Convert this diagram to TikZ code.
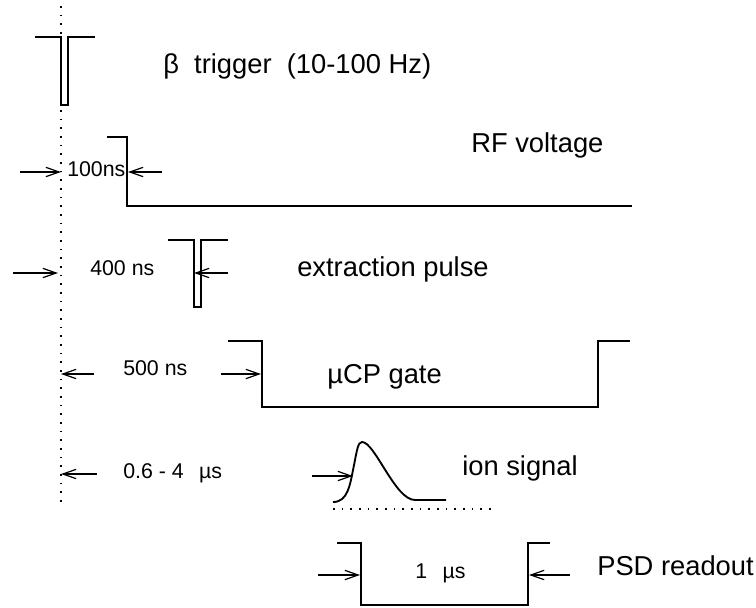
\documentclass[tikz,border=0pt]{standalone}
\usepackage{fontspec}
\setmainfont{Liberation Sans}
\usetikzlibrary{arrows.meta}

\begin{document}
\begin{tikzpicture}[
  x=0.75pt, y=-0.75pt,
  sig/.style={line width=1.4pt},
  dots/.style={line width=1.7pt, dash pattern=on 1.2pt off 5.3pt},
  dim/.style={line width=0.9pt, -{Straight Barb[length=10pt,width=7pt,line width=0.9pt]}},
  big/.style={font=\fontsize{20.5}{24}\selectfont, anchor=base west, inner sep=0pt},
  lab/.style={font=\fontsize{16}{19}\selectfont, anchor=base west, inner sep=0pt}
]
\useasboundingbox (0,0) rectangle (756,607);
% time zero
\draw[dots] (61,6) coordinate (t0top) -- (61,502) coordinate (t0bot);
% beta trigger
\draw[sig] (35,37) -- (61,37) -- (61,105) -- (68,105) -- (68,37) -- (95,37);
\node[big] (trig) at (163,73) {β\ \ trigger\ \ (10-100 Hz)};
% RF voltage
\draw[sig] (107,137) -- (127,137) coordinate (rfedge) -- (127,206) -- (632,206);
\node[big] (rf) at (471,152) {RF voltage};
\node[lab] (d100) at (67,176) {100ns};
\coordinate (a1) at (20,172);
\coordinate (b1) at (162,172);
\draw[dim] (a1) -- (61,172);
\draw[dim] (b1) -- (128,172);
% extraction pulse
\draw[sig] (168,240) -- (194,240) -- (194,307) -- (201,307) -- (201,240) -- (228,240);
\node[big] (ext) at (297,276) {extraction pulse};
\node[lab] (d400) at (90,275) {400 ns};
\coordinate (a2) at (13,273);
\coordinate (b2) at (228,273);
\draw[dim] (a2) -- (58,273);
\draw[dim] (b2) -- (194,273);
% MCP gate
\draw[sig] (228,341) -- (262,341) -- (262,407) -- (598,407) -- (598,341) -- (630,341);
\node[big] (mcp) at (327,383) {µCP gate};
\node[lab] (d500) at (123,375) {500 ns};
\coordinate (a3) at (94,374);
\coordinate (b3) at (221,374);
\draw[dim] (a3) -- (61,374);
\draw[dim] (b3) -- (261,374);
% ion signal
\draw[sig] (333,502) .. controls (348,502) and (350,485) .. (354,465)
  .. controls (357,450) and (358,442) .. (362,442)
  .. controls (375,442) and (395,500) .. (415,500) -- (446,500);
\draw[dots] (333,509) -- (497,509);
\node[big] (ion) at (462,475) {ion signal};
\node[lab] (dion) at (123,478) {0.6 - 4 \, µs};
\coordinate (a4) at (97,474);
\coordinate (b4) at (312,476);
\draw[dim] (a4) -- (61,474);
\draw[dim] (b4) -- (353,476);
% PSD readout
\draw[sig] (337,543) -- (361,543) -- (361,605) -- (528,605) -- (528,543) -- (550,543);
\node[big] (psd) at (597,575) {PSD readout};
\node[lab] (d1) at (415,578) {1 \, µs};
\coordinate (a5) at (318,575);
\coordinate (b5) at (570,575);
\draw[dim] (a5) -- (360,575);
\draw[dim] (b5) -- (529,575);
\end{tikzpicture}
\end{document}
